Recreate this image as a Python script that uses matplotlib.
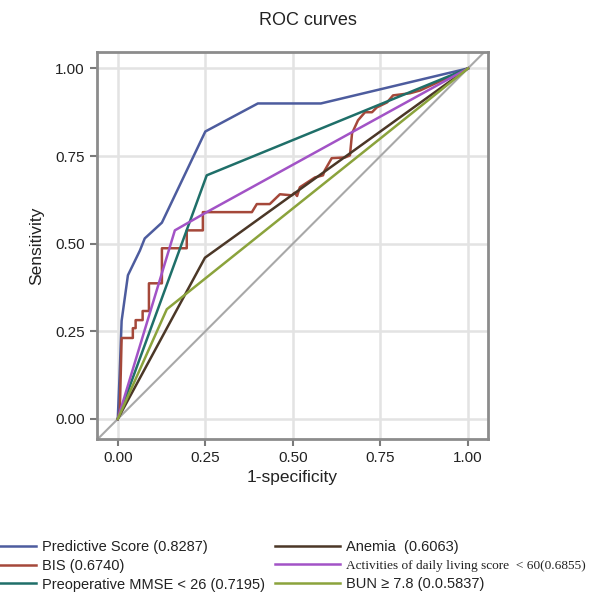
import matplotlib
matplotlib.use("Agg")
import matplotlib.pyplot as plt

plt.rcParams['font.family'] = ['Liberation Sans', 'DejaVu Sans']

# ROC curve points (1-specificity, sensitivity)
pred_x = [0, 0.005, 0.011, 0.029, 0.063, 0.077, 0.126, 0.25, 0.40, 0.58, 1.0]
pred_y = [0, 0.12, 0.28, 0.41, 0.48, 0.515, 0.56, 0.82, 0.90, 0.90, 1.0]

bis_x = [0, 0.006, 0.011, 0.043, 0.043, 0.051, 0.051, 0.071, 0.071, 0.089, 0.089,
         0.126, 0.126, 0.197, 0.197, 0.243, 0.243, 0.383, 0.397, 0.434, 0.463,
         0.497, 0.505, 0.512, 0.52, 0.563, 0.586, 0.591, 0.611, 0.649, 0.663,
         0.669, 0.686, 0.706, 0.726, 0.74, 0.769, 0.786, 0.834, 0.863, 0.9, 1.0]
bis_y = [0, 0.026, 0.231, 0.231, 0.259, 0.259, 0.282, 0.282, 0.308, 0.308, 0.387,
         0.387, 0.487, 0.487, 0.538, 0.538, 0.59, 0.59, 0.613, 0.613, 0.641,
         0.638, 0.645, 0.636, 0.661, 0.689, 0.695, 0.709, 0.744, 0.746, 0.752,
         0.815, 0.852, 0.875, 0.875, 0.889, 0.903, 0.923, 0.929, 0.937, 0.954, 1.0]

mmse_x = [0, 0.254, 1.0]
mmse_y = [0, 0.695, 1.0]

anemia_x = [0, 0.249, 1.0]
anemia_y = [0, 0.46, 1.0]

adl_x = [0, 0.163, 0.254, 1.0]
adl_y = [0, 0.538, 0.59, 1.0]

bun_x = [0, 0.14, 1.0]
bun_y = [0, 0.313, 1.0]

ticks = [0, 0.25, 0.5, 0.75, 1.0]
tick_labels = ['0.00', '0.25', '0.50', '0.75', '1.00']

fig = plt.figure(figsize=(5.9, 5.94), dpi=100)
ax = fig.add_axes([0.164, 0.261, 0.663, 0.651])

lw = 1.8
ax.plot([-0.06, 1.06], [-0.06, 1.06], color='#a8a8a8', lw=1.5, zorder=1)
l_pred, = ax.plot(pred_x, pred_y, color='#4d5c9e', lw=lw, label='Predictive Score (0.8287)')
l_bis, = ax.plot(bis_x, bis_y, color='#a5483a', lw=lw, label='BIS (0.6740)')
l_mmse, = ax.plot(mmse_x, mmse_y, color='#1f6f69', lw=lw, label='Preoperative MMSE < 26 (0.7195)')
l_an, = ax.plot(anemia_x, anemia_y, color='#4b3727', lw=lw, label='Anemia  (0.6063)')
l_adl, = ax.plot(adl_x, adl_y, color='#a253c6', lw=lw, label='Activities of daily living score  < 60(0.6855)')
l_bun, = ax.plot(bun_x, bun_y, color='#8ba33c', lw=lw, label='BUN \u2265 7.8 (0.0.5837)')

ax.set_xlim(-0.06, 1.057)
ax.set_ylim(-0.057, 1.046)
ax.set_xticks(ticks)
ax.set_xticklabels(tick_labels)
ax.set_yticks(ticks)
ax.set_yticklabels(tick_labels)
ax.grid(True, color='#e3e3e3', lw=1.8)
ax.set_axisbelow(True)
for s in ax.spines.values():
    s.set_color('#8c8c8c')
    s.set_linewidth(2)
ax.tick_params(colors='#7a7a7a', labelcolor='#222222', length=5, width=1.5, labelsize=11)

ax.set_xlabel('1-specificity', fontsize=12.5, color='#222222', labelpad=4)
ax.set_ylabel('Sensitivity', fontsize=12.5, color='#222222', labelpad=8)
fig.text(0.522, 0.966, 'ROC curves', ha='center', va='center', fontsize=13, color='#222222')

leg1 = fig.legend(handles=[l_pred, l_bis, l_mmse], loc='upper left',
                  bbox_to_anchor=(-0.04, 0.091), frameon=False, fontsize=10.5,
                  handlelength=4.1, handletextpad=0.4, labelspacing=0.33,
                  borderpad=0, borderaxespad=0)
leg2 = fig.legend(handles=[l_an, l_adl, l_bun], loc='upper left',
                  bbox_to_anchor=(0.466, 0.091), frameon=False, fontsize=10.5,
                  handlelength=4.45, handletextpad=0.4, labelspacing=0.33,
                  borderpad=0, borderaxespad=0)
adl_text = leg2.get_texts()[1]
adl_text.set_family('Liberation Serif')
adl_text.set_fontsize(9.6)
for t in leg1.get_texts() + leg2.get_texts():
    t.set_color('#222222')

fig.savefig('out.png', dpi=100)
